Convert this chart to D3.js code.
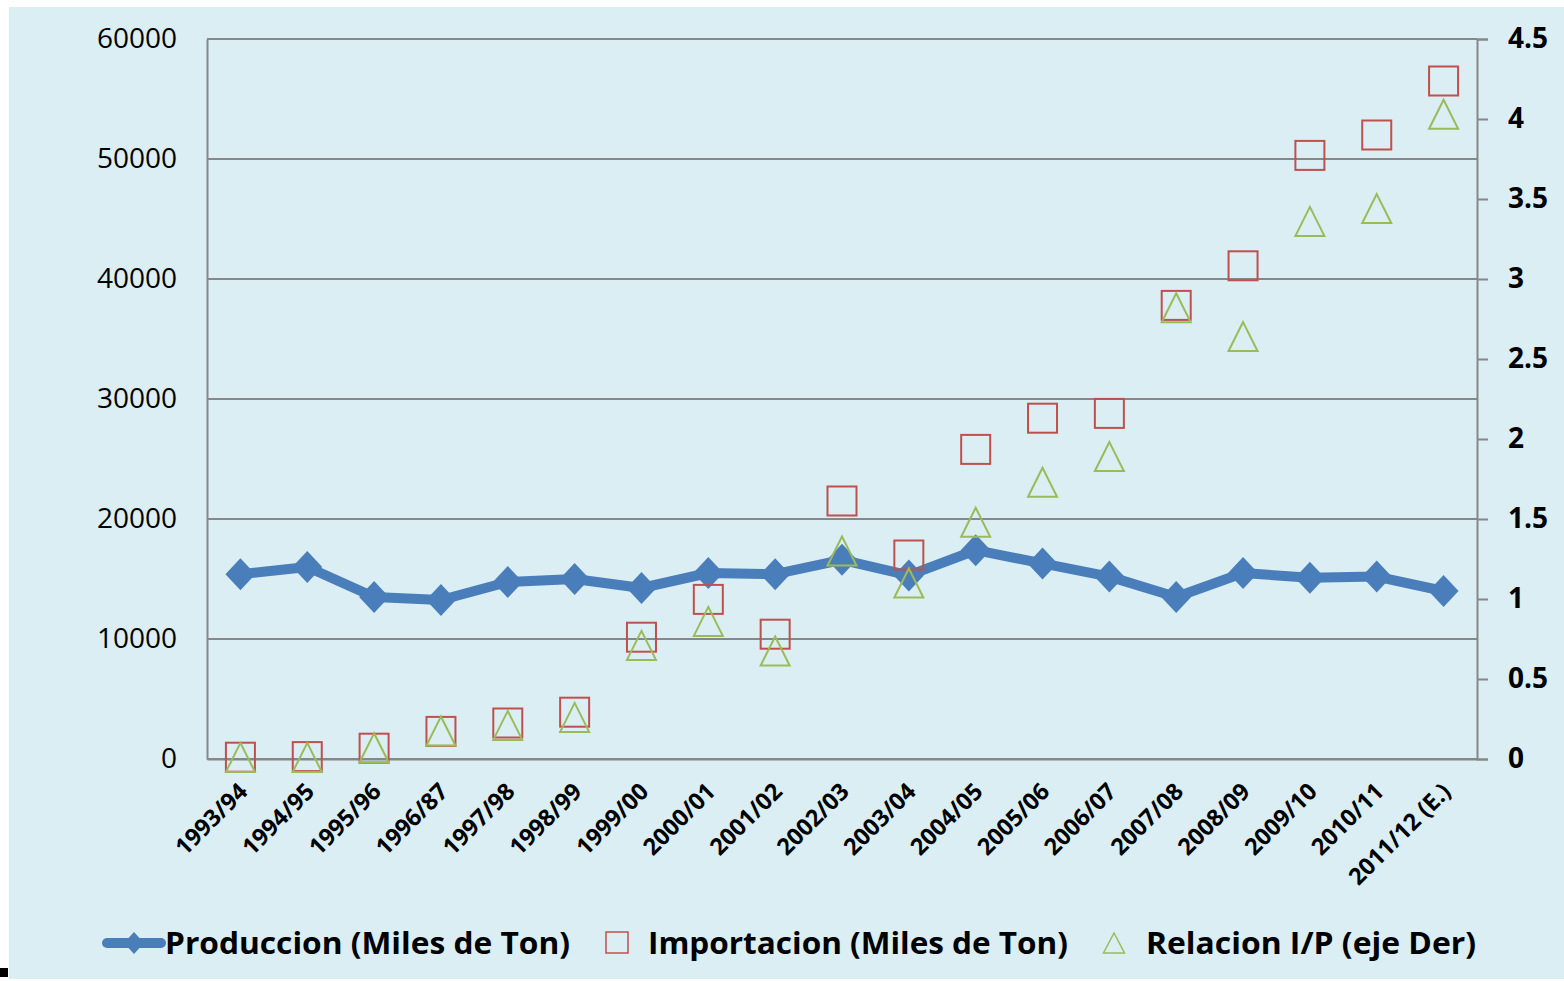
<!DOCTYPE html>
<html><head><meta charset="utf-8">
<script src="https://cdn.jsdelivr.net/npm/d3@7"></script>
<style>body{margin:0;background:#fff}svg{display:block}</style>
</head><body><svg id="c" width="1564" height="981"></svg>
<script>
const categories = ["1993/94","1994/95","1995/96","1996/87","1997/98","1998/99","1999/00","2000/01","2001/02","2002/03","2003/04","2004/05","2005/06","2006/07","2007/08","2008/09","2009/10","2010/11","2011/12 (E.)"];
const produccion = [15400,16000,13500,13250,14750,15000,14250,15500,15400,16600,15300,17400,16300,15200,13500,15500,15100,15200,14000];
const importacion = [150,200,900,2300,3000,3900,10150,13300,10400,21500,17000,25800,28400,28800,37800,41100,50300,52000,56500];
const relacion = [0.01,0.01,0.07,0.175,0.21,0.26,0.71,0.86,0.675,1.30,1.10,1.48,1.73,1.89,2.82,2.64,3.36,3.44,4.03];
const leftTicks = [0,10000,20000,30000,40000,50000,60000];
const rightTicks = [0,0.5,1,1.5,2,2.5,3,3.5,4,4.5];
const seriesNames = ["Produccion (Miles de Ton)","Importacion (Miles de Ton)","Relacion I/P (eje Der)"];

const svg = d3.select("#c");
const L=207,R=1477,T=39,B=759;
const blue="#4a7ebb", red="#c0504d", green="#9bbb59", grid="#878787";
const font="'Open Sans', sans-serif";

svg.append("rect").attr("x",9).attr("y",7).attr("width",1555).attr("height",972).attr("fill","#daeef3");
svg.append("rect").attr("x",0).attr("y",968).attr("width",8).attr("height",9).attr("fill","#000");

const x = d3.scalePoint().domain(categories).range([L,R]).padding(0.5);
const yL = d3.scaleLinear().domain([0,60000]).range([B,T]);
const yR = d3.scaleLinear().domain([0,4.5]).range([B,T]);

// gridlines
svg.append("g").selectAll("line").data(leftTicks).join("line")
  .attr("x1",L).attr("x2",R).attr("y1",d=>yL(d)).attr("y2",d=>yL(d))
  .attr("stroke",grid).attr("stroke-width",2);
// left axis
const gl = svg.append("g").attr("transform",`translate(${L},0)`)
  .call(d3.axisLeft(yL).tickValues(leftTicks).tickSize(0).tickPadding(30).tickFormat(d3.format("d")));
gl.select(".domain").attr("stroke",grid).attr("stroke-width",2);
gl.selectAll("text").attr("font-family",font).attr("font-size",28).attr("fill","#000");
// right axis
const gr = svg.append("g").attr("transform",`translate(${R},0)`)
  .call(d3.axisRight(yR).tickValues(rightTicks).tickSize(11).tickPadding(20).tickFormat(d=>String(d)));
gr.select(".domain").attr("stroke",grid).attr("stroke-width",2);
gr.selectAll(".tick line").attr("stroke",grid).attr("stroke-width",2);
gr.selectAll("text").attr("font-family",font).attr("font-weight","bold").attr("font-size",28).attr("fill","#000");
// bottom axis
const gb = svg.append("g").attr("transform",`translate(0,${B})`)
  .call(d3.axisBottom(x).tickSize(0).tickPadding(0));
gb.select(".domain").attr("stroke",grid).attr("stroke-width",2);
gb.selectAll("text").attr("font-family",font).attr("font-weight","bold").attr("font-size",23.5).attr("fill","#000")
  .attr("text-anchor","end").attr("dy",null).attr("y",null)
  .attr("transform","translate(8,34) rotate(-45)");

// production line
const line = d3.line().x((d,i)=>x(categories[i])).y(d=>yL(d));
svg.append("path").datum(produccion).attr("d",line).attr("fill","none")
  .attr("stroke",blue).attr("stroke-width",10).attr("stroke-linejoin","round");
const diamond = (w,h)=>`M0,${-h/2}L${w/2},0L0,${h/2}L${-w/2},0Z`;
svg.append("g").selectAll("path").data(produccion).join("path")
  .attr("transform",(d,i)=>`translate(${x(categories[i])},${yL(d)})`)
  .attr("d",diamond(30,32)).attr("fill",blue);
// importacion squares
svg.append("g").selectAll("rect").data(importacion).join("rect")
  .attr("x",(d,i)=>x(categories[i])-14.5).attr("y",d=>yL(d)-14.5)
  .attr("width",29).attr("height",29).attr("fill","none").attr("stroke",red).attr("stroke-width",2);
// relacion triangles
const tri = (w,h)=>`M0,${-h/2}L${w/2},${h/2}L${-w/2},${h/2}Z`;
svg.append("g").selectAll("path").data(relacion).join("path")
  .attr("transform",(d,i)=>`translate(${x(categories[i])},${yR(d)})`)
  .attr("d",tri(29,29)).attr("fill","none").attr("stroke",green).attr("stroke-width",2);

// legend
const ly=943;
const lg = svg.append("g");
lg.append("line").attr("x1",107).attr("x2",161).attr("y1",ly).attr("y2",ly).attr("stroke",blue).attr("stroke-width",10).attr("stroke-linecap","round");
lg.append("path").attr("transform",`translate(134,${ly})`).attr("d",diamond(20,22)).attr("fill",blue);
lg.append("rect").attr("x",606).attr("y",932).attr("width",22).attr("height",21).attr("fill","none").attr("stroke",red).attr("stroke-width",1.5);
lg.append("path").attr("transform",`translate(1114,${ly})`).attr("d",tri(21,20)).attr("fill","none").attr("stroke",green).attr("stroke-width",1.5);
const lt = [[165,405],[648,420],[1146,330]];
lg.selectAll("text").data(seriesNames).join("text")
  .attr("x",(d,i)=>lt[i][0]).attr("y",ly+11)
  .attr("textLength",(d,i)=>lt[i][1]).attr("lengthAdjust","spacingAndGlyphs")
  .attr("font-family",font).attr("font-weight","bold").attr("font-size",31).attr("fill","#000")
  .text(d=>d);
</script></body></html>
